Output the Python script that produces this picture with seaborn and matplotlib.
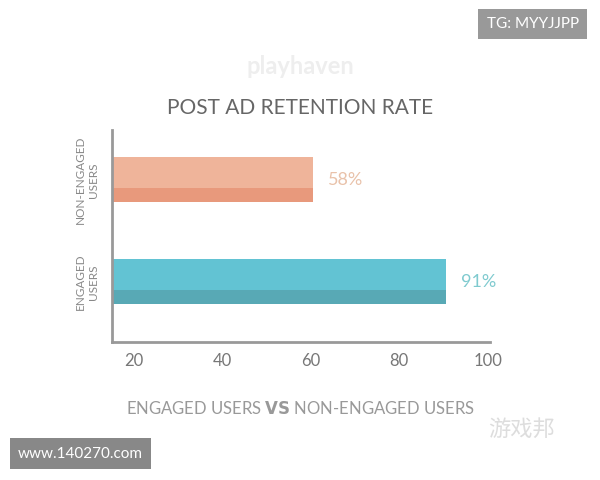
import matplotlib
matplotlib.use("Agg")
import matplotlib.pyplot as plt
import seaborn as sns
import pandas as pd

categories = ["NON-ENGAGED\nUSERS", "ENGAGED\nUSERS"]
bar_values = [60.5, 90.5]
value_labels = ["58%", "91%"]
ticks = [20, 40, 60, 80, 100]

light = ["#EFB49A", "#62C3D3"]
dark = ["#E8997C", "#58A9B5"]
text_cols = ["#E9C2AA", "#7FCACF"]

df = pd.DataFrame({"group": categories, "value": bar_values})

sns.set_style("white")
plt.rcParams["font.family"] = ["Lato", "DejaVu Sans"]
fig = plt.figure(figsize=(6, 4.8), dpi=100)
ax = fig.add_axes([0.187, 0.2875, 0.63, 0.442])

# darker lower face, then lighter front face on top
sns.barplot(data=df, y="group", x="value", hue="group", palette=dark,
            orient="h", width=0.44, ax=ax, legend=False, linewidth=0,
            saturation=1)
for i, v in enumerate(bar_values):
    ax.barh(i - 0.07, v, height=0.30, color=light[i], linewidth=0)
    ax.text(v + 3.5, i, value_labels[i], color=text_cols[i], fontsize=13,
            va="center", ha="left")

ax.set_xlim(15.2, 100.5)
ax.set_ylim(1.59, -0.49)
ax.set_xticks(ticks)
ax.tick_params(axis="x", direction="in", length=7, color="#999999",
               labelcolor="#777777", labelsize=12, pad=8)
ax.set_yticks([0, 1])
ax.set_yticklabels(categories, rotation=90, va="center", ha="center",
                   fontsize=8.5, color="#888888")
ax.tick_params(axis="y", length=0, pad=18)
ax.set_xlabel("")
ax.set_ylabel("")
for s in ["top", "right"]:
    ax.spines[s].set_visible(False)
for s in ["left", "bottom"]:
    ax.spines[s].set_color("#999999")
    ax.spines[s].set_linewidth(2)

fig.text(0.5, 0.775, "POST AD RETENTION RATE", ha="center", va="center",
         fontsize=15, color="#666666")
fig.text(0.5, 0.862, "playhaven", ha="center", va="center", fontsize=17,
         color="#EEEEEE", fontweight="bold")
fig.text(0.5, 0.148, "ENGAGED USERS $\\bf{VS}$ NON-ENGAGED USERS", ha="center",
         va="center", fontsize=12, color="#999999")
fig.text(0.965, 0.95, "TG: MYYJJPP", ha="right", va="center", fontsize=11,
         color="white", bbox=dict(facecolor="#999999", edgecolor="none", pad=6))
fig.text(0.03, 0.055, "www.140270.com", ha="left", va="center", fontsize=11,
         color="white", bbox=dict(facecolor="#888888", edgecolor="none", pad=6))
fig.text(0.87, 0.105, "游戏邦", ha="center", va="center", fontsize=16,
         color="#DDDDDD", family=["Noto Sans CJK SC", "DejaVu Sans"])

fig.savefig("out.png", dpi=100)
